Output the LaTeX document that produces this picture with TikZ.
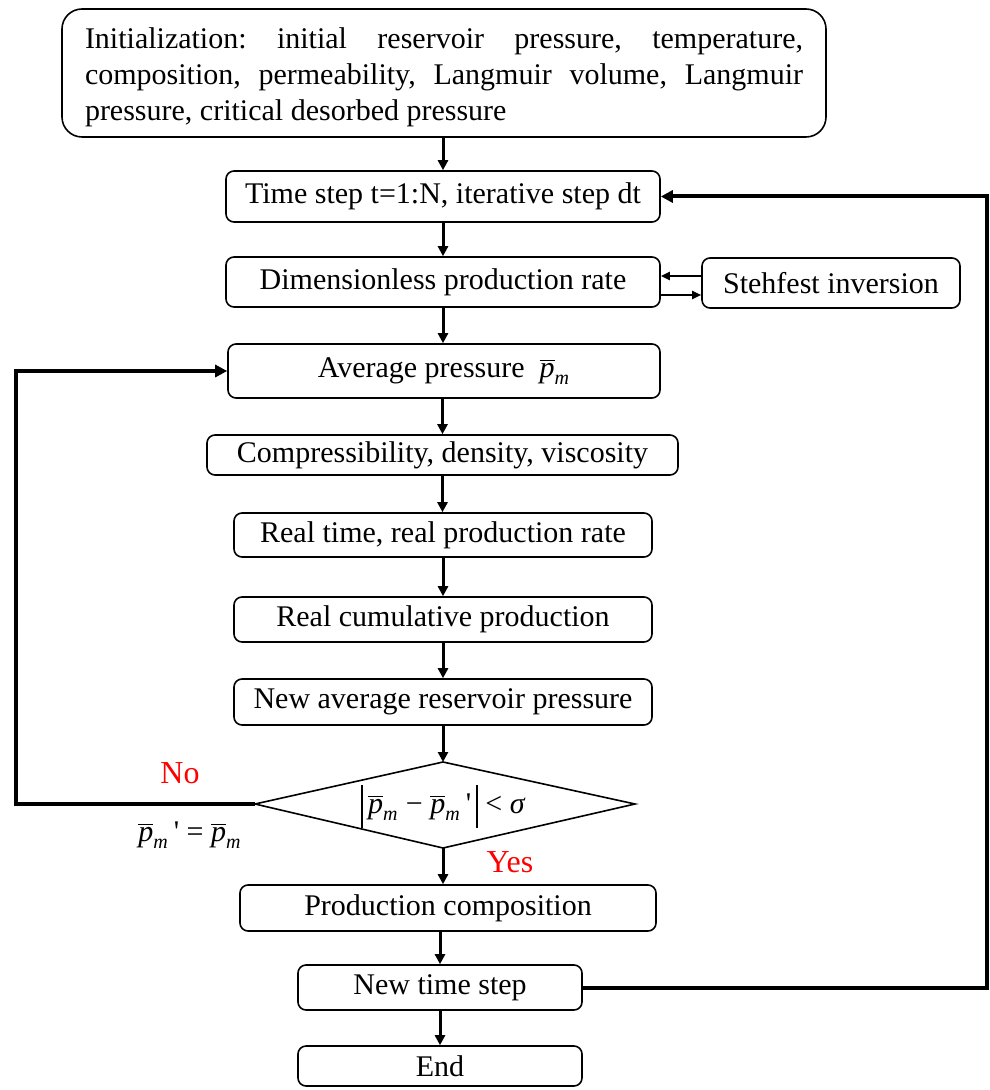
\documentclass[tikz,border=0pt]{standalone}
\usepackage{fontspec}
\setmainfont{Liberation Serif}
\usetikzlibrary{arrows.meta}
\hyphenpenalty=10000
\exhyphenpenalty=10000
\tolerance=10000
\frenchspacing
\newcommand{\pbar}{\ensuremath{\overline{\mbox{\itshape p}}_{\mbox{\fontsize{10}{10}\selectfont\itshape m}}}}
\newcommand{\tallbar}{\rule[-7pt]{0.8pt}{21.5pt}}
\begin{document}
\begin{tikzpicture}[x=0.5pt,y=-0.5pt,
  box/.style={draw, rounded corners=4pt, line width=0.8pt, font=\fontsize{15}{17}\selectfont, inner sep=0pt},
  arr/.style={line width=1.5pt, -{Triangle[length=5pt,width=5pt]}},
  loopline/.style={line width=2pt, -{Triangle[length=6pt,width=6pt]}},
  sarr/.style={line width=1pt, -{Triangle[length=4.5pt,width=4pt]}},
  lab/.style={text=red, font=\fontsize{16}{18}\selectfont, inner sep=0pt},
  plain/.style={font=\fontsize{15}{17}\selectfont, inner sep=0pt}]
\useasboundingbox (0,0) rectangle (989,1090);

\node[box, rounded corners=10pt, minimum width=382pt, minimum height=64pt, text width=359pt, align=justify, font=\fontsize{15}{18}\selectfont] (init) at (444,73)
 {\rule{0pt}{15pt}Initialization: initial reservoir pressure, temperature, composition, permeability, Langmuir volume, Langmuir pressure, critical desorbed pressure};

\node[box, minimum width=217pt, minimum height=25.5pt] (ts) at (443,196.5) {Time step t=1:N, iterative step dt};
\node[box, minimum width=217pt, minimum height=25pt] (dpr) at (443,282) {Dimensionless production rate};
\node[box, minimum width=129pt, minimum height=25pt] (sti) at (831,283) {Stehfest inversion};
\node[box, minimum width=216pt, minimum height=27pt] (avg) at (444,371) {Average pressure\ \ \pbar};
\node[box, minimum width=235.5pt, minimum height=20pt] (comp) at (442.5,455) {Compressibility, density, viscosity};
\node[box, minimum width=209pt, minimum height=22pt] (rt) at (443,535) {Real time, real production rate};
\node[box, minimum width=209pt, minimum height=22.5pt] (rc) at (443,619.5) {Real cumulative production};
\node[box, minimum width=209pt, minimum height=23pt] (nar) at (443,702) {New average reservoir pressure};

\coordinate (dT) at (443,762);
\coordinate (dR) at (635,804);
\coordinate (dB) at (443,848);
\coordinate (dL) at (255,804);
\draw[line width=0.8pt, line join=miter] (dL) -- (dT) -- (dR) -- (dB) -- cycle;
\node[plain] (dec) at (443,806) {\tallbar\,\pbar{} − \pbar\,\textquotesingle\,\tallbar{} < {\itshape σ}};

\node[box, minimum width=208pt, minimum height=23pt] (pc) at (448,908) {Production composition};
\node[box, minimum width=142pt, minimum height=22.5pt] (nts) at (440,987.5) {New time step};
\node[box, minimum width=142pt, minimum height=20pt] (end) at (440,1066) {End};

\node[lab] (no) at (180,773) {No};
\node[lab] (yes) at (510,862) {Yes};
\node[plain] (upd) at (190,835) {\pbar\,\textquotesingle{} = \pbar};

% main flow
\draw[arr] (init.south -| ts.north) -- (ts.north);
\draw[arr] (ts.south) -- (ts.south |- dpr.north);
\draw[arr] (dpr.south) -- (dpr.south |- avg.north);
\draw[arr] (avg.south -| comp.north) -- (comp.north);
\draw[arr] (comp.south) -- (comp.south |- rt.north);
\draw[arr] (rt.south) -- (rc.north);
\draw[arr] (rc.south) -- (nar.north);
\draw[arr] (nar.south) -- (dT);
\draw[arr] (dB) -- (dB |- pc.north);
\draw[arr] (pc.south -| nts.north) -- (nts.north);
\draw[arr] (nts.south) -- (end.north);

% Stehfest
\draw[sarr] ([yshift=3.5pt]sti.west) -- ([yshift=3.5pt]sti.west -| dpr.east);
\draw[sarr] ([yshift=-6.5pt]dpr.east) -- ([yshift=-6.5pt]dpr.east -| sti.west);

% loops
\coordinate (rloop) at (987,600);
\draw[loopline, line join=miter] (nts.east) -| (rloop) |- (ts.east);
\coordinate (lloop) at (16,600);
\draw[loopline, line join=miter] (dL) -| (lloop) |- (avg.west);
\end{tikzpicture}
\end{document}
